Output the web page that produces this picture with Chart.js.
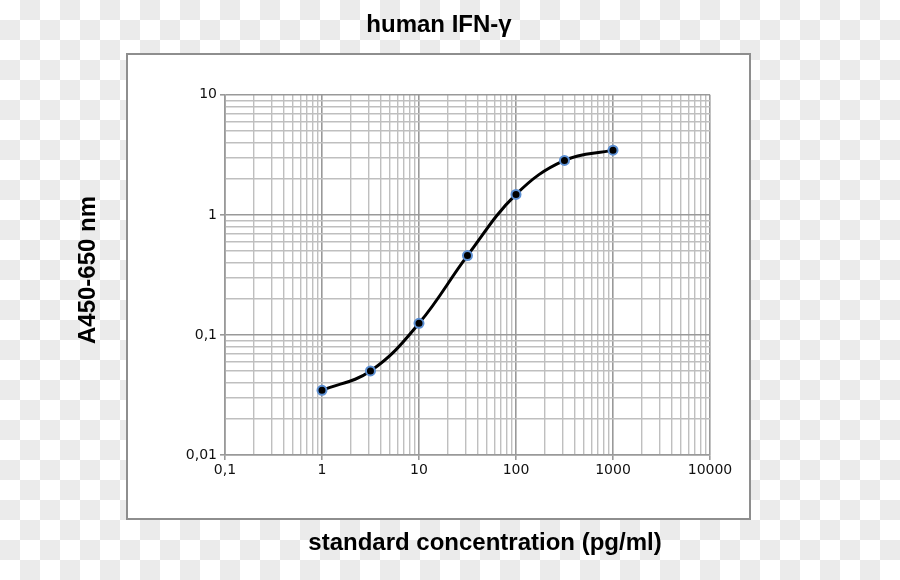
<!DOCTYPE html>
<html>
<head>
<meta charset="utf-8">
<script src="https://cdn.jsdelivr.net/npm/chart.js@4"></script>
<style>
    body {
        margin: 0;
        width: 900px;
        height: 580px;
        overflow: hidden;
        background: repeating-conic-gradient(#ebebeb 0 25%, #ffffff 0 50%) 0 0 / 40px 40px;
    }
    #ifnChart {
        position: absolute;
        left: 0;
        top: 0;
    }
</style>
</head>
<body>
<canvas id="ifnChart" width="900" height="580"></canvas>
<script>
// standard curve
const concentraciones = [1, 3.16, 10, 31.6, 100, 316, 1000];
const absorbancias = [0.0346, 0.0501, 0.125, 0.458, 1.48, 2.84, 3.46];

const decadasX = [0.1, 1, 10, 100, 1000, 10000];
const etiquetasX = ['0,1', '1', '10', '100', '1000', '10000'];
const decadasY = [0.01, 0.1, 1, 10];
const etiquetasY = ['0,01', '0,1', '1', '10'];

const tituloGrafica = 'human IFN-γ';
const tituloEjeX = 'standard concentration (pg/ml)';
const tituloEjeY = 'A450-650 nm';

/**
 * Builds the 1..9 x 10^k tick list between the first and last decade.
 */
function ticksLog(decadas) {
    const lista = [];
    decadas.forEach((d, i) => {
        if (i === decadas.length - 1) {
            lista.push(d);
            return;
        }
        for (let m = 1; m <= 9; m++) lista.push(+(d * m).toPrecision(6));
    });
    return lista;
}

function indiceDecada(decadas, valor) {
    return decadas.findIndex(d => Math.abs(d - valor) / d < 1e-6);
}

function esMayor(decadas, ctx) {
    return ctx.tick && indiceDecada(decadas, ctx.tick.value) >= 0;
}

// white frame behind the plot, plus both axis titles outside the axes
const marcoPlugin = {
    id: 'marco',
    beforeDraw(chart) {
        const ctx = chart.ctx;
        ctx.save();
        ctx.fillStyle = '#ffffff';
        ctx.fillRect(126, 53, 625, 467);
        ctx.strokeStyle = '#8e8e8e';
        ctx.lineWidth = 2;
        ctx.strokeRect(127, 54, 623, 465);
        ctx.restore();
    },
    afterDraw(chart) {
        const ctx = chart.ctx;
        ctx.save();
        ctx.font = 'bold 24px "Liberation Sans"';
        ctx.fillStyle = '#000000';
        ctx.textAlign = 'center';
        ctx.textBaseline = 'middle';
        ctx.fillText(tituloEjeX, 485, 543);
        ctx.translate(88, 270);
        ctx.rotate(-Math.PI / 2);
        ctx.fillText(tituloEjeY, 0, 0);
        ctx.restore();
    }
};

const datosCurva = concentraciones.map((c, i) => ({ x: c, y: absorbancias[i] }));

new Chart(document.getElementById('ifnChart').getContext('2d'), {
    type: 'line',
    data: {
        datasets: [{
            data: datosCurva,
            borderColor: '#000000',
            borderWidth: 3,
            tension: 0.4,
            pointRadius: 4.5,
            pointBorderWidth: 2,
            pointBackgroundColor: '#000000',
            pointBorderColor: '#5b8fd3'
        }]
    },
    options: {
        responsive: false,
        animation: false,
        layout: {
            padding: { left: 168, right: 190, top: 0, bottom: 0 }
        },
        plugins: {
            legend: { display: false },
            tooltip: { enabled: false },
            title: {
                display: true,
                text: tituloGrafica,
                color: '#000000',
                font: { family: 'Liberation Sans', size: 24, weight: 'bold' },
                padding: { top: 11, bottom: 55 }
            }
        },
        scales: {
            x: {
                type: 'logarithmic',
                min: decadasX[0],
                max: decadasX[decadasX.length - 1],
                afterBuildTicks: scale => {
                    scale.ticks = ticksLog(decadasX).map(v => ({ value: v }));
                },
                afterFit: scale => {
                    scale.height = 125;
                },
                ticks: {
                    autoSkip: false,
                    maxRotation: 0,
                    padding: 2,
                    color: '#111111',
                    font: { family: 'DejaVu Sans', size: 14 },
                    callback: value => {
                        const i = indiceDecada(decadasX, value);
                        return i >= 0 ? etiquetasX[i] : '';
                    }
                },
                grid: {
                    color: ctx => esMayor(decadasX, ctx) ? '#999999' : '#bfbfbf',
                    tickColor: ctx => esMayor(decadasX, ctx) ? '#999999' : 'rgba(0,0,0,0)',
                    lineWidth: ctx => esMayor(decadasX, ctx) ? 1.6 : 1.4,
                    tickLength: 5
                },
                border: { color: '#999999', width: 1.6 }
            },
            y: {
                type: 'logarithmic',
                min: decadasY[0],
                max: decadasY[decadasY.length - 1],
                afterBuildTicks: scale => {
                    scale.ticks = ticksLog(decadasY).map(v => ({ value: v }));
                },
                afterFit: scale => {
                    scale.width = 225 - 168;
                },
                ticks: {
                    autoSkip: false,
                    padding: 3,
                    color: '#111111',
                    font: { family: 'DejaVu Sans', size: 14 },
                    callback: value => {
                        const i = indiceDecada(decadasY, value);
                        return i >= 0 ? etiquetasY[i] : '';
                    }
                },
                grid: {
                    color: ctx => esMayor(decadasY, ctx) ? '#999999' : '#bfbfbf',
                    tickColor: ctx => esMayor(decadasY, ctx) ? '#999999' : 'rgba(0,0,0,0)',
                    lineWidth: ctx => esMayor(decadasY, ctx) ? 1.6 : 1.4,
                    tickLength: 5
                },
                border: { color: '#999999', width: 1.6 }
            }
        }
    },
    plugins: [marcoPlugin]
});
</script>
</body>
</html>
